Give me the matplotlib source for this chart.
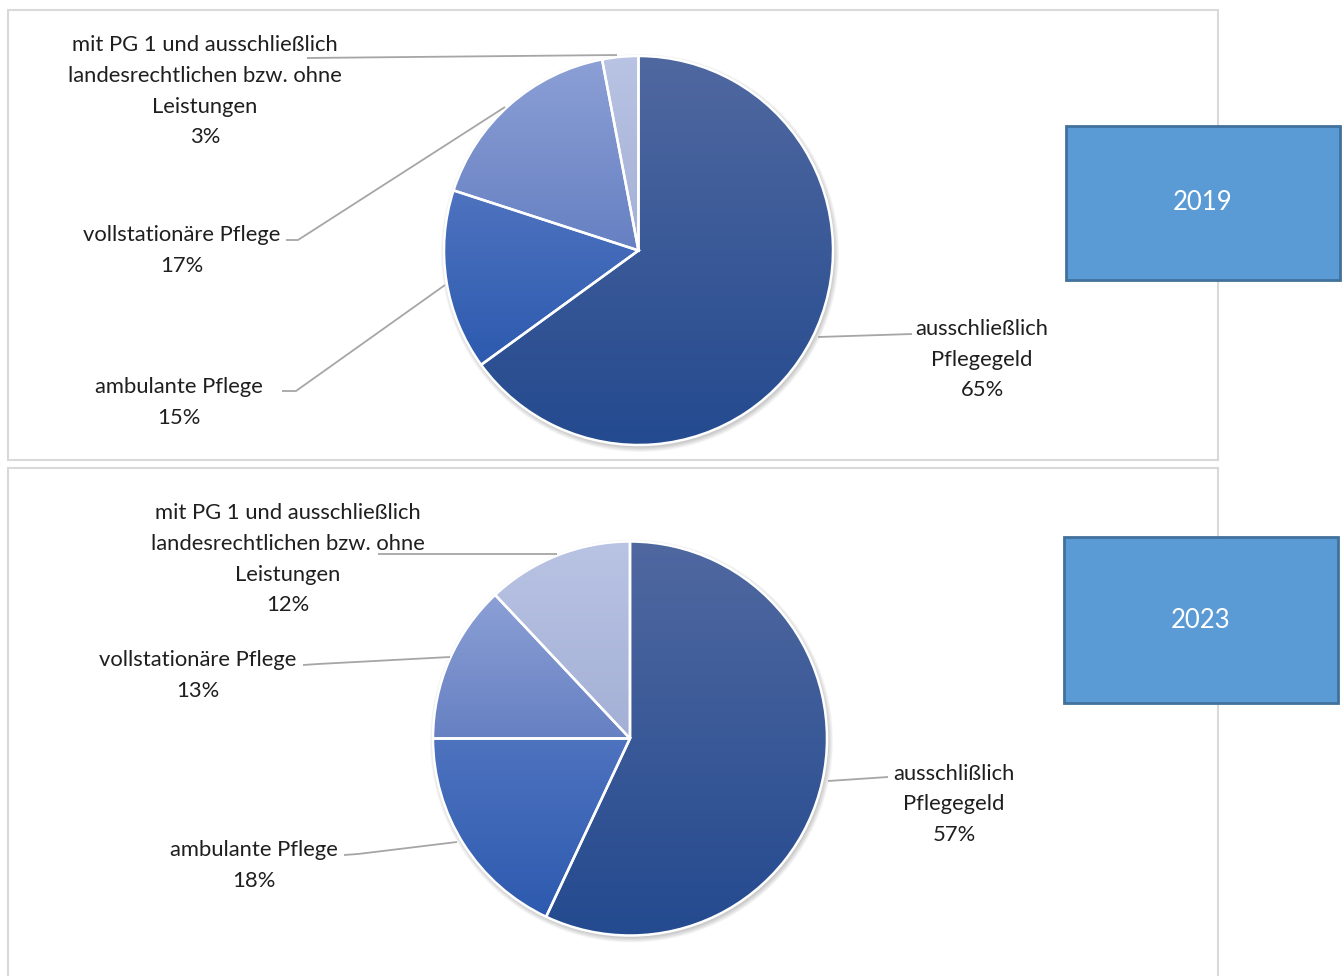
import numpy as np
import matplotlib
matplotlib.use("Agg")
import matplotlib.pyplot as plt
from matplotlib.patches import Rectangle, Circle
from matplotlib.colors import LinearSegmentedColormap

W, H = 1344, 976

# data
names_2019 = ["ausschließlich\nPflegegeld", "ambulante Pflege", "vollstationäre Pflege",
              "mit PG 1 und ausschließlich\nlandesrechtlichen bzw. ohne\nLeistungen"]
vals_2019 = [65, 15, 17, 3]
names_2023 = ["ausschlißlich\nPflegegeld", "ambulante Pflege", "vollstationäre Pflege",
              "mit PG 1 und ausschließlich\nlandesrechtlichen bzw. ohne\nLeistungen"]
vals_2023 = [57, 18, 13, 12]

# gradient colours per slice (top, bottom)
grad_cols = [("#5068a0", "#244a8f"), ("#4e73bf", "#2d5aaf"),
             ("#8ca0d6", "#6680c2"), ("#b9c4e4", "#a3afd5")]

plt.rcParams['font.family'] = ['Lato', 'DejaVu Sans']
txt_col = "#1f1f1f"
line_col = "#a6a6a6"

fig = plt.figure(figsize=(W / 100, H / 100), dpi=100)
ax = fig.add_axes([0, 0, 1, 1])

def Y(y):
    return H - y

def draw_pie(vals, cx, cy, r):
    # soft shadow
    for k in range(6):
        ax.add_patch(Circle((cx + 1.5, Y(cy) - 2.5), r + k * 0.9, color="k",
                            alpha=0.035, lw=0, zorder=1))
    wedges, _ = ax.pie(vals, center=(cx, Y(cy)), radius=r, startangle=90,
                       counterclock=False,
                       wedgeprops=dict(edgecolor="white", linewidth=1.8))
    # vertical gradient per slice, clipped to the wedge
    grad = np.linspace(0, 1, 256).reshape(-1, 1)
    for w, (c0, c1) in zip(wedges, grad_cols):
        ext = w.get_path().get_extents()
        cm = LinearSegmentedColormap.from_list("g", [c0, c1])
        im = ax.imshow(grad, extent=(ext.x0, ext.x1, ext.y0, ext.y1), cmap=cm,
                       aspect="auto", zorder=2, interpolation="bilinear")
        im.set_clip_path(w)
        w.set_facecolor("none")
        w.set_zorder(3)

def leader(pts):
    xs = [p[0] for p in pts]
    ys = [Y(p[1]) for p in pts]
    ax.plot(xs, ys, color=line_col, lw=1.3, zorder=4, solid_capstyle="butt")

def block(x, y, s):
    # place text so the first line is centred at y
    n = s.count("\n")
    ax.text(x, Y(y + 3 + 29.5 * n / 2), s, ha="center", va="center", fontsize=15.8,
            color=txt_col, linespacing=1.66, zorder=5)

# panels
ax.add_patch(Rectangle((8, Y(460)), 1210, 450, fill=False, ec="#d9d9d9", lw=1.5, zorder=0))
ax.add_patch(Rectangle((8, Y(990)), 1210, 522, fill=False, ec="#d9d9d9", lw=1.5, zorder=0))

# 2019
draw_pie(vals_2019, 638.5, 250.5, 194.5)
block(982, 327, f"{names_2019[0]}\n{vals_2019[0]}%")
block(179, 385, f"{names_2019[1]}\n{vals_2019[1]}%")
block(182, 233, f"{names_2019[2]}\n{vals_2019[2]}%")
block(205, 44, f"{names_2019[3]}\n{vals_2019[3]}%")
leader([(818, 337), (912, 334)])
leader([(282, 391), (296, 391), (445, 285)])
leader([(286, 240), (298, 240), (505, 107)])
leader([(307, 58), (617, 55)])

# 2023
draw_pie(vals_2023, 630, 738.5, 197)
block(954, 772, f"{names_2023[0]}\n{vals_2023[0]}%")
block(254, 848, f"{names_2023[1]}\n{vals_2023[1]}%")
block(198, 658, f"{names_2023[2]}\n{vals_2023[2]}%")
block(288, 512, f"{names_2023[3]}\n{vals_2023[3]}%")
leader([(828, 781), (888, 777)])
leader([(344, 855), (358, 854), (457, 842)])
leader([(303, 665), (318, 664), (450, 657)])
leader([(378, 554), (557, 554)])

# year boxes
for (x0, y0, x1, y1), yr in [((1066, 126, 1340, 280), "2019"), ((1064, 537, 1338, 703), "2023")]:
    ax.add_patch(Rectangle((x0, Y(y1)), x1 - x0, y1 - y0, fc="#5b9bd5", ec="#41719c",
                           lw=2, zorder=6))
    ax.text((x0 + x1) / 2, Y((y0 + y1) / 2), yr, ha="center", va="center",
            fontsize=18.5, color="white", zorder=7)

ax.set_xlim(0, W)
ax.set_ylim(0, H)
ax.set_aspect("equal")
ax.axis("off")
fig.savefig("out.png", dpi=100)
